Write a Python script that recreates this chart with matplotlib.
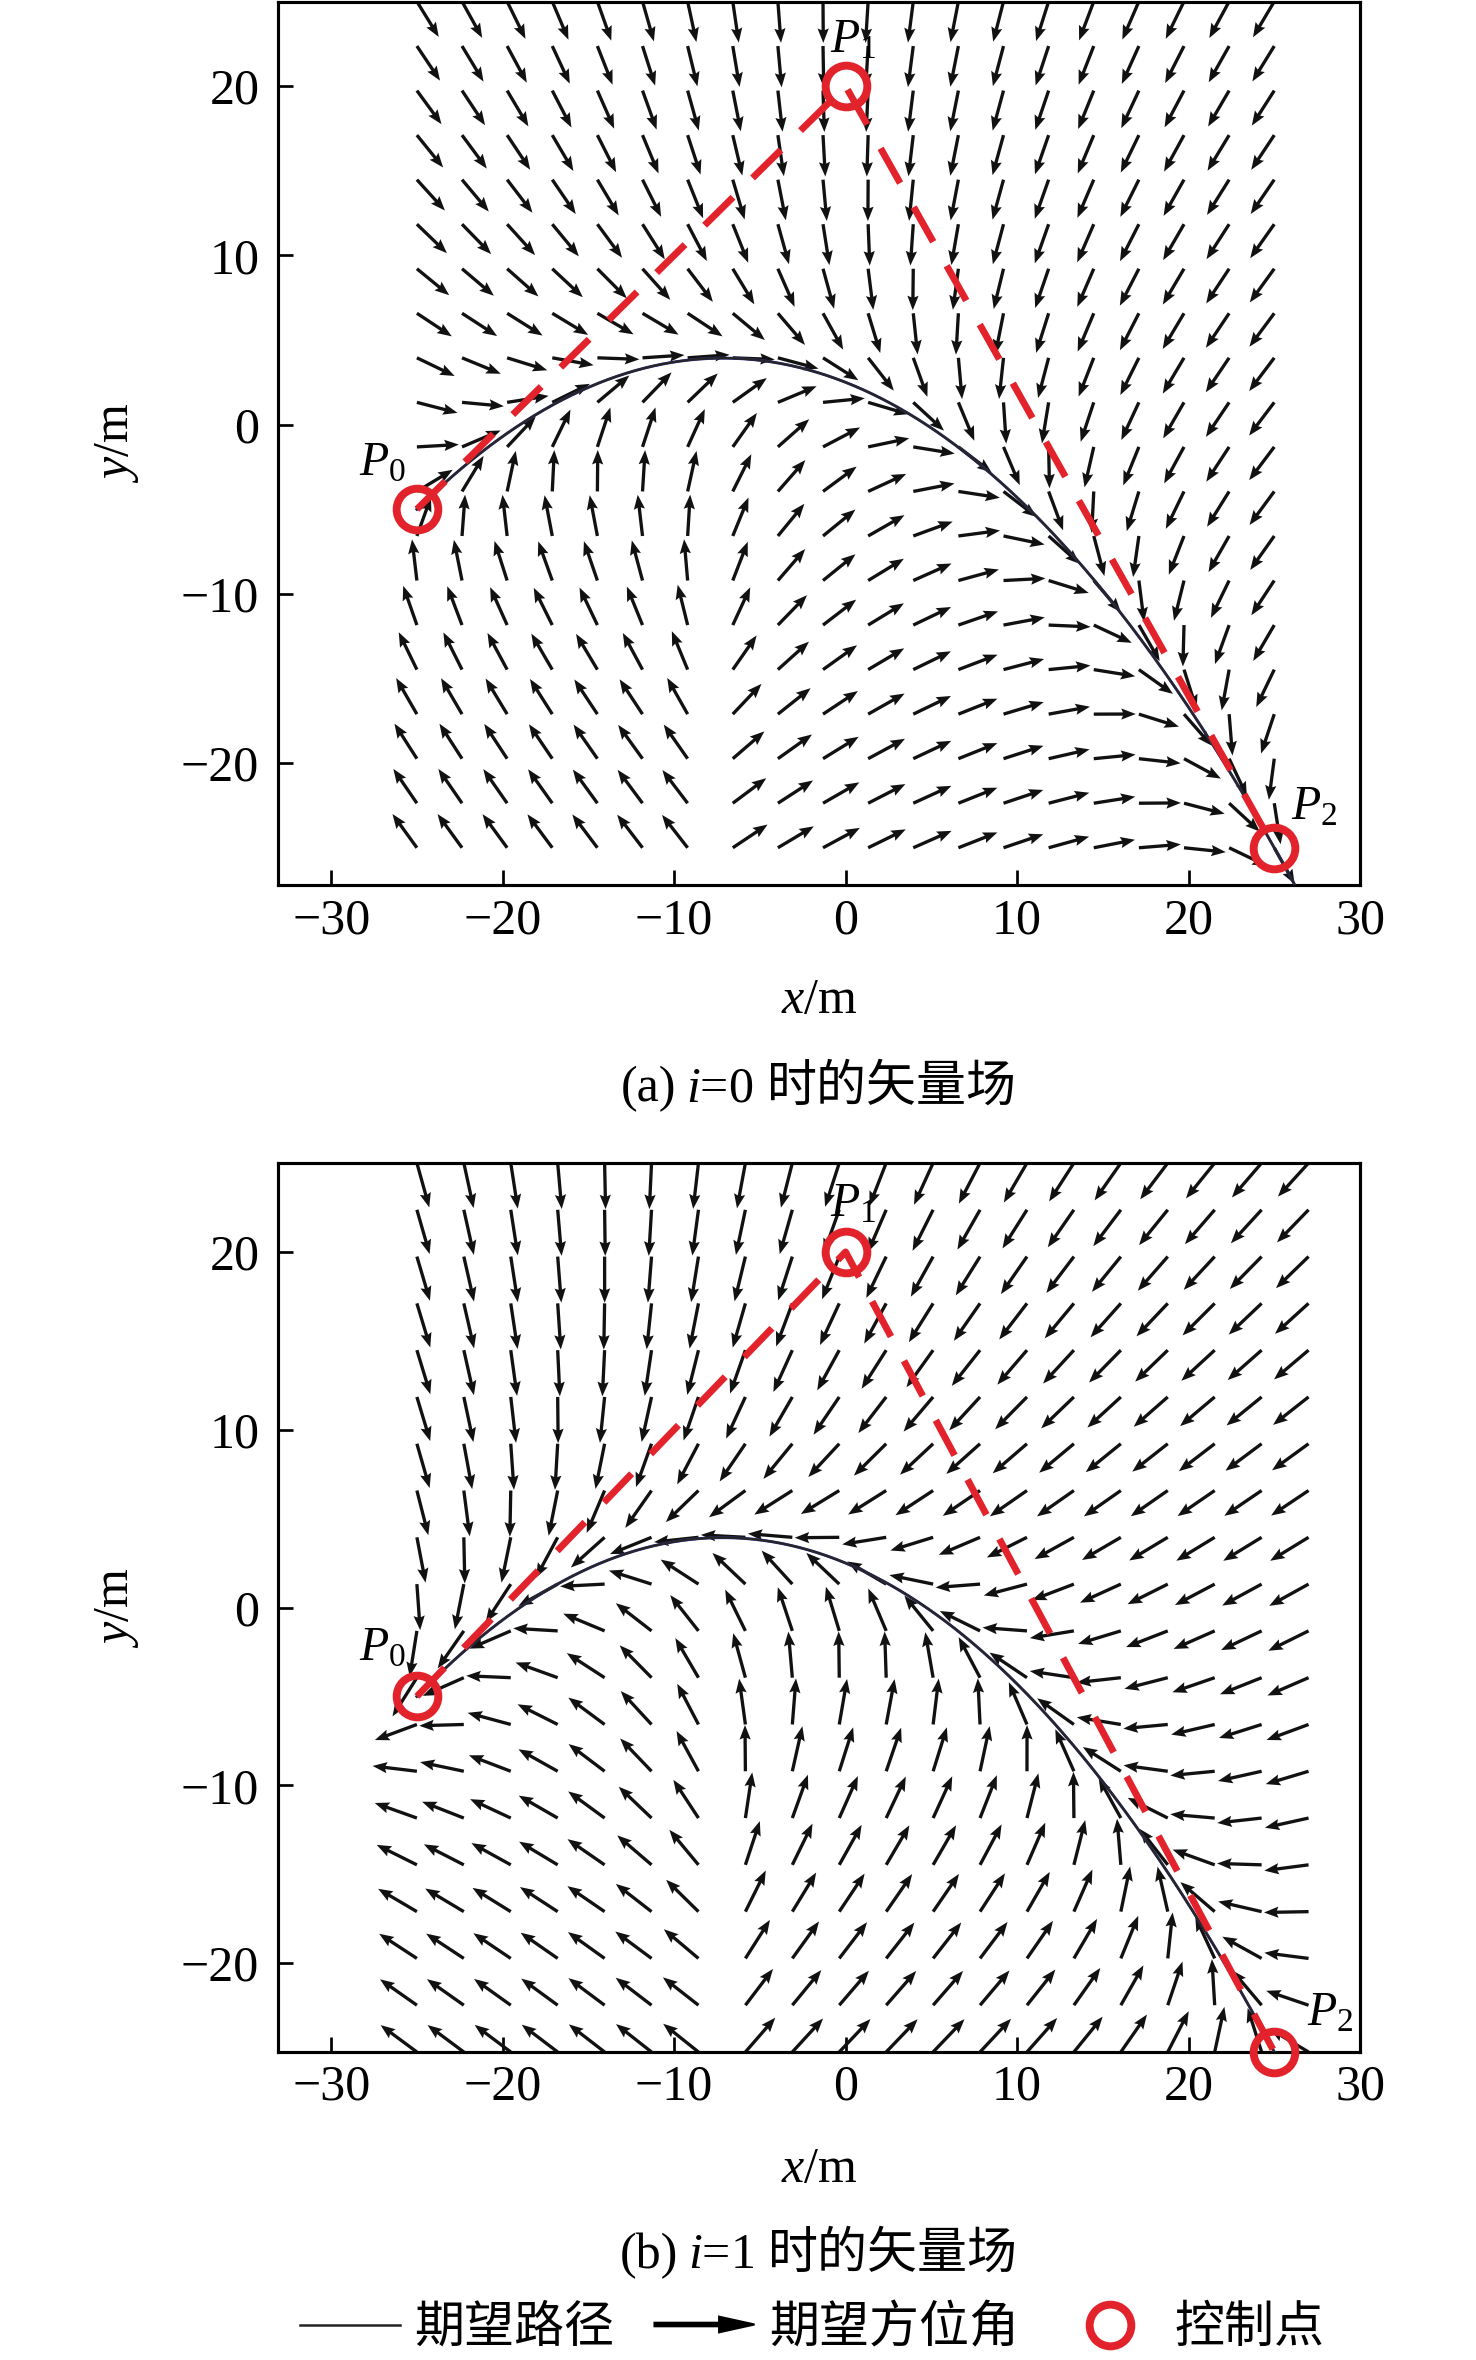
import numpy as np
import matplotlib
matplotlib.use("Agg")
import matplotlib.pyplot as plt
import matplotlib.patches as mpatches
from matplotlib.lines import Line2D
from matplotlib.legend_handler import HandlerPatch

plt.rcParams['font.family'] = ['Liberation Serif', 'Noto Sans CJK SC']
plt.rcParams['mathtext.fontset'] = 'custom'
plt.rcParams['mathtext.rm'] = 'Liberation Serif'
plt.rcParams['mathtext.it'] = 'Liberation Serif:italic'
plt.rcParams['mathtext.bf'] = 'Liberation Serif:bold'

# control points of the quadratic Bezier path
ctrl_x = [-25.0, 0.0, 25.0]
ctrl_y = [-5.0, 20.0, -25.0]
ctrl_names = ['$P_0$', '$P_1$', '$P_2$']

# sampling grid of the vector field
grid_x_a = np.linspace(-25, 25, 20)
grid_x_b = np.linspace(-25, 27, 20)
grid_y = np.linspace(-25, 25, 20)
gain = 0.3          # convergence gain of the field

xticks = [-30, -20, -10, 0, 10, 20, 30]
yticks = [-20, -10, 0, 10, 20]

captions = [('(a)', '$i$=0', '时的矢量场'), ('(b)', '$i$=1', '时的矢量场')]
legend_labels = ['期望路径', '期望方位角', '控制点']

RED = '#e3232b'
CJK = 'Noto Sans CJK SC'
P = np.column_stack([ctrl_x, ctrl_y])


def bezier(t):
    t = np.asarray(t)[:, None]
    return (1 - t)**2 * P[0] + 2 * t * (1 - t) * P[1] + t**2 * P[2]


def bezier_d(t):
    t = np.asarray(t)[:, None]
    return 2 * (1 - t) * (P[1] - P[0]) + 2 * t * (P[2] - P[1])


def heading_field(gx, gy, reverse, L):
    X, Y = np.meshgrid(gx, gy)
    pts = np.column_stack([X.ravel(), Y.ravel()])
    ts = np.linspace(0, 1, 4001)
    C = bezier(ts)
    d2 = ((pts[:, None, :] - C[None, :, :])**2).sum(-1)
    j = d2.argmin(1)
    T = bezier_d(ts[j])
    T = T / np.hypot(T[:, 0], T[:, 1])[:, None]
    if reverse:
        T = -T
    r = pts - C[j]
    side = np.sign(T[:, 0] * r[:, 1] - T[:, 1] * r[:, 0])
    e = side * np.hypot(r[:, 0], r[:, 1])
    chi = np.arctan2(T[:, 1], T[:, 0]) - np.arctan(gain * e)
    U = (L * np.cos(chi)).reshape(X.shape)
    V = (L * np.sin(chi)).reshape(X.shape)
    return X, Y, U, V


def draw_panel(ax, gx, L, reverse, ylim, label_xy):
    X, Y, U, V = heading_field(gx, grid_y, reverse, L)
    ax.quiver(X, Y, U, V, angles='xy', scale_units='xy', scale=1,
              units='dots', width=3.3, headwidth=3.4, headlength=4.4,
              headaxislength=3.9, color='#111111', zorder=2)
    C = bezier(np.linspace(0, 1.06, 400))
    ax.plot(C[:, 0], C[:, 1], color='#2e2e90', lw=1.4, zorder=3)
    ax.plot(C[:, 0], C[:, 1], color='#262626', lw=1.1, zorder=3)
    ax.plot(ctrl_x, ctrl_y, color=RED, lw=3.3, dashes=(5.8, 4.0), zorder=4)
    ax.plot(ctrl_x, ctrl_y, ls='none', marker='o', ms=20, mfc='none',
            mec=RED, mew=3.8, zorder=5, clip_on=False)
    for name, (tx, ty) in zip(ctrl_names, label_xy):
        ax.text(tx, ty, name, fontsize=23, ha='left', va='baseline', zorder=6)
    ax.set_xlim(-33.1, 30)
    ax.set_ylim(*ylim)
    ax.set_xticks(xticks)
    ax.set_yticks(yticks)
    ax.tick_params(direction='in', length=7, width=1.3, labelsize=24,
                   top=False, right=False)
    ax.tick_params(axis='x', pad=6)
    ax.tick_params(axis='y', pad=9)
    for s in ax.spines.values():
        s.set_linewidth(1.5)
    ax.text(-0.149, 0.5, '$y$/m', rotation=90, transform=ax.transAxes,
            ha='center', va='center', fontsize=24)


def rich_text(fig, cx, cy, pieces, gaps):
    texts = [fig.text(0, cy, s, fontsize=24, family=fam, ha='left', va='baseline')
             for s, fam in pieces]
    rend = fig.canvas.get_renderer()
    ws = [t.get_window_extent(rend).width for t in texts]
    W = fig.bbox.width
    x = cx * W - (sum(ws) + sum(gaps)) / 2
    for k, (t, w) in enumerate(zip(texts, ws)):
        t.set_x(x / W)
        x += w + (gaps[k] if k < len(gaps) else 0)


class ArrowHandler(HandlerPatch):
    def create_artists(self, legend, orig_handle, xdescent, ydescent,
                       width, height, fontsize, trans):
        a = mpatches.FancyArrow(-xdescent, height / 2 - ydescent, width, 0,
                                width=1.7, head_width=7.5, head_length=17,
                                length_includes_head=True, color='black')
        a.set_transform(trans)
        return [a]


FW, FH = 1476, 2360
fig = plt.figure(figsize=(FW / 150, FH / 150), dpi=150)

ax_a = fig.add_axes([278 / FW, 1 - 885 / FH, 1082 / FW, 883.5 / FH])
ax_b = fig.add_axes([278 / FW, 1 - 2052 / FH, 1082 / FW, 889 / FH])

draw_panel(ax_a, grid_x_a, 2.45, False, (-27.2, 25),
           [(-28.4, -3.0), (-0.9, 22.0), (26.0, -23.3)])
draw_panel(ax_b, grid_x_b, 2.6, True, (-25, 25),
           [(-28.4, -3.0), (-0.9, 22.0), (26.9, -23.5)])

for ax, ycen in [(ax_a, 1001), (ax_b, 2170)]:
    fig.text(819 / FW, 1 - ycen / FH, '$x$/m', ha='center', va='center', fontsize=24)

for cap, ybase in zip(captions, [1101, 2268]):
    rich_text(fig, 819 / FW, 1 - ybase / FH,
              [(cap[0], 'Liberation Serif'), (cap[1], 'Liberation Serif'), (cap[2], CJK)],
              [10, 14])

line_h = Line2D([], [], color='#222222', lw=1.2)
arrow_h = mpatches.FancyArrow(0, 0, 1, 0)
circ_h = Line2D([], [], ls='none', marker='o', ms=20, mfc='none', mec=RED, mew=3.8)
fig.legend([line_h, arrow_h, circ_h], legend_labels,
           handler_map={arrow_h: ArrowHandler()},
           loc='center', bbox_to_anchor=(812 / FW, 1 - 2328 / FH), ncol=3,
           frameon=False, prop={'family': CJK, 'size': 24},
           handlelength=2.0, handletextpad=0.3, columnspacing=0.8)

fig.savefig('out.png', dpi=150)
